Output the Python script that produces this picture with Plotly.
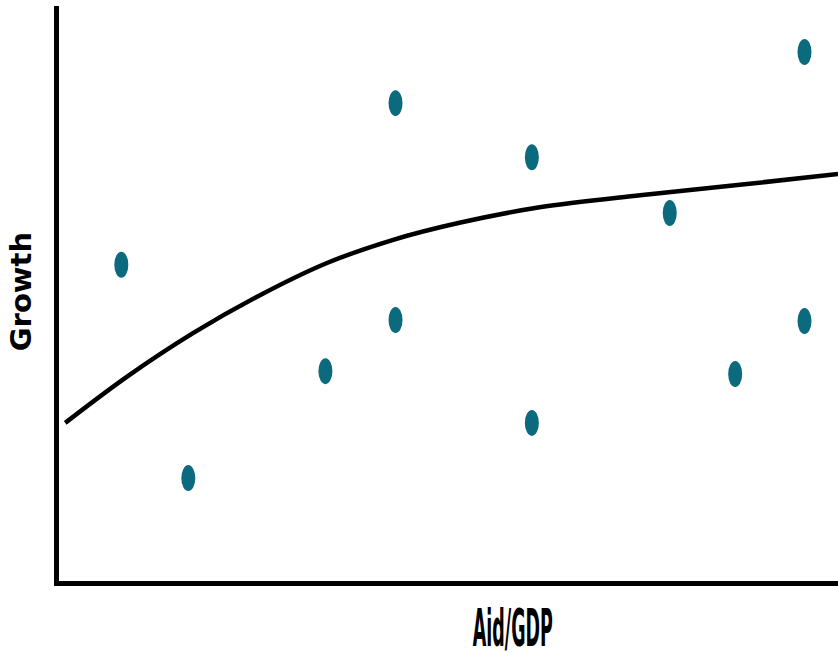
import plotly.graph_objects as go

# Scatter observations (Aid/GDP vs Growth), arbitrary 0-100 units
aid_gdp = [8.0, 16.6, 34.2, 43.2, 43.2, 60.7, 60.7, 78.4, 86.8, 95.7, 95.7]
growth = [55.0, 17.9, 36.5, 83.1, 45.4, 73.7, 27.5, 64.0, 36.0, 92.0, 45.2]

# Fitted relationship curve
curve_x = [0.8, 8.7, 17.2, 25.8, 34.4, 42.8, 51.4, 61.7, 74.6, 87.4, 100.0]
curve_y = [27.5, 35.5, 43.1, 49.7, 55.3, 59.3, 62.3, 65.0, 67.1, 68.9, 70.8]

x_label = "Aid/GDP"
y_label = "Growth"

DOT = "#0b6a7e"

fig = go.Figure()
fig.add_trace(go.Scatter(
    x=curve_x, y=curve_y, mode="lines",
    line=dict(color="black", width=4.5, shape="spline", smoothing=1.0),
    hoverinfo="skip", showlegend=False,
))
fig.add_trace(go.Scatter(
    x=aid_gdp, y=growth, mode="markers",
    marker=dict(size=1, color=DOT, opacity=0),
    showlegend=False,
))

for xv, yv in zip(aid_gdp, growth):
    fig.add_shape(
        type="circle", xref="x", yref="y",
        xsizemode="pixel", ysizemode="pixel",
        xanchor=xv, yanchor=yv,
        x0=-7, x1=7, y0=-13, y1=13,
        fillcolor=DOT, line=dict(width=0),
    )

fig.add_annotation(
    text=x_label, xref="paper", yref="paper",
    x=0.5825, y=-0.082, xanchor="center", yanchor="middle",
    showarrow=False,
    font=dict(family="Liberation Sans Narrow, DejaVu Sans Condensed, Liberation Sans, sans-serif",
              size=46, color="black", weight="bold"),
)
fig.add_annotation(
    text=y_label, xref="paper", yref="paper",
    x=-0.0485, y=0.5026, xanchor="center", yanchor="middle",
    textangle=-90, showarrow=False,
    font=dict(family="DejaVu Sans, sans-serif", size=29, color="black", weight="bold"),
)

fig.update_xaxes(range=[0, 100], showline=True, linewidth=5, linecolor="black",
                 showgrid=False, zeroline=False, showticklabels=False, ticks="")
fig.update_yaxes(range=[0, 100], showline=True, linewidth=5, linecolor="black",
                 showgrid=False, zeroline=False, showticklabels=False, ticks="")

fig.update_layout(
    width=838, height=653,
    margin=dict(l=59, r=0, t=6, b=72),
    plot_bgcolor="white", paper_bgcolor="white",
    showlegend=False,
)

post = """
document.body.style.margin = '0';
document.body.style.padding = '0';
document.body.style.overflow = 'hidden';
var gd = document.getElementById('{plot_id}');
function fixTitle(){
  var ts = gd.querySelectorAll('text.annotation-text');
  ts.forEach(function(t){
    if (t.textContent === 'Aid/GDP') {
      var w = t.getBBox().width;
      if (w > 0) {
        t.style.transformBox = 'fill-box';
        t.style.transformOrigin = 'center';
        t.style.transform = 'scale(' + (80 / w) + ', 1.11)';
      }
    }
  });
}
fixTitle();
"""

fig.write_html("out.html", post_script=post, config={"displayModeBar": False})
